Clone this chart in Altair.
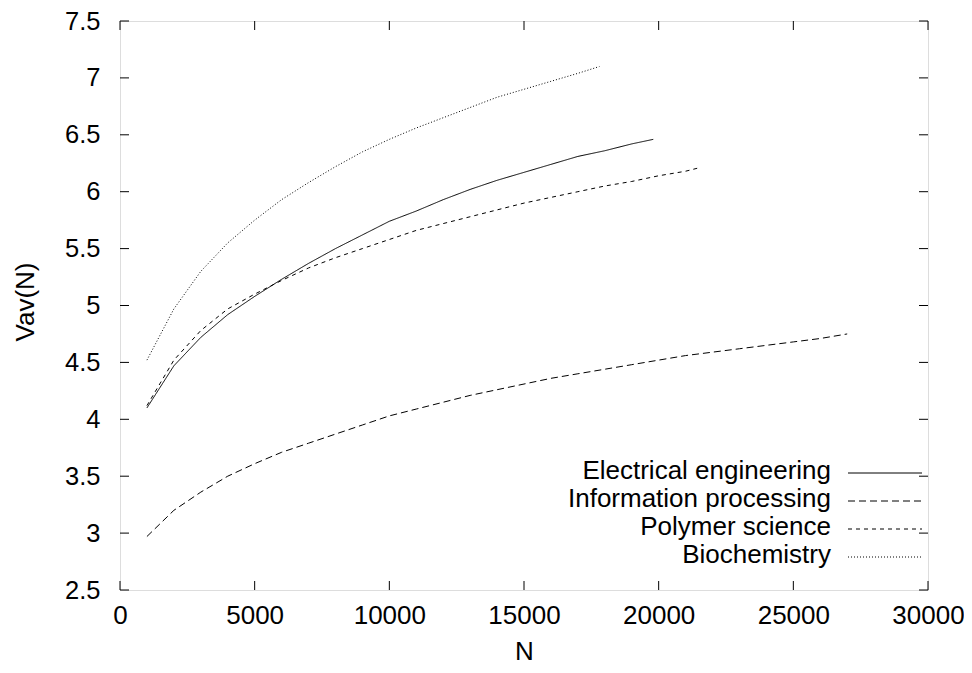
import altair as alt
import pandas as pd

# ---- data ----
series_names = ["Electrical engineering", "Information processing", "Polymer science", "Biochemistry"]

ee_N = [1000, 2000, 3000, 4000, 5000, 6000, 7000, 8000, 9000, 10000, 11000, 12000, 13000,
        14000, 15000, 16000, 17000, 18000, 19000, 19800]
ee_V = [4.10, 4.47, 4.72, 4.92, 5.08, 5.23, 5.37, 5.50, 5.62, 5.74, 5.83, 5.93, 6.02,
        6.10, 6.17, 6.24, 6.31, 6.36, 6.42, 6.46]

ip_N = [1000, 2000, 3000, 4000, 5000, 6000, 7000, 8000, 9000, 10000, 11000, 12000, 13000,
        14000, 15000, 16000, 17000, 18000, 19000, 20000, 21000, 22000, 23000, 24000, 25000,
        26000, 27000]
ip_V = [2.97, 3.20, 3.36, 3.50, 3.61, 3.71, 3.79, 3.87, 3.95, 4.03, 4.09, 4.15, 4.21,
        4.26, 4.31, 4.36, 4.40, 4.44, 4.48, 4.52, 4.56, 4.59, 4.62, 4.65, 4.68, 4.71, 4.75]

ps_N = [1000, 2000, 3000, 4000, 5000, 6000, 7000, 8000, 9000, 10000, 11000, 12000, 13000,
        14000, 15000, 16000, 17000, 18000, 19000, 20000, 21000, 21500]
ps_V = [4.12, 4.52, 4.78, 4.97, 5.10, 5.22, 5.33, 5.42, 5.50, 5.58, 5.66, 5.72, 5.78,
        5.84, 5.90, 5.95, 6.00, 6.05, 6.09, 6.14, 6.18, 6.21]

bc_N = [1000, 2000, 3000, 4000, 5000, 6000, 7000, 8000, 9000, 10000, 11000, 12000, 13000,
        14000, 15000, 16000, 17000, 17800]
bc_V = [4.52, 4.97, 5.30, 5.55, 5.75, 5.93, 6.08, 6.22, 6.35, 6.46, 6.56, 6.65, 6.74,
        6.83, 6.90, 6.97, 7.04, 7.10]

x_ticks = [0, 5000, 10000, 15000, 20000, 25000, 30000]
y_ticks = [2.5, 3, 3.5, 4, 4.5, 5, 5.5, 6, 6.5, 7, 7.5]

dashes = [[1, 0], [7, 4], [4, 4], [1, 2]]

# ---- build tables ----
rows = []
for name, Ns, Vs in zip(series_names, [ee_N, ip_N, ps_N, bc_N], [ee_V, ip_V, ps_V, bc_V]):
    for i, (n, v) in enumerate(zip(Ns, Vs)):
        rows.append({"series": name, "N": n, "V": v, "order": i})
df = pd.DataFrame(rows)

W, H = 808, 569
FONT = "Liberation Sans"
FS = 26
YFS = 25.5

xscale = alt.Scale(domain=[0, 30000], nice=False, zero=False)
yscale = alt.Scale(domain=[2.5, 7.5], nice=False, zero=False)

xaxis = alt.Axis(values=x_ticks, ticks=False, tickSize=0, domain=False, grid=False,
                 labelFontSize=FS, labelFont=FONT, labelColor="black", labelPadding=12,
                 title="N", titleFontSize=FS, titleFont=FONT, titleFontWeight="normal",
                 titleColor="black", titleY=48, titleBaseline="top", format="d",
                 labelFlush=False)
yaxis = alt.Axis(values=y_ticks, ticks=False, tickSize=0, domain=False, grid=False,
                 labelFontSize=YFS, labelFont=FONT, labelColor="black", labelPadding=20,
                 title="Vav(N)", titleFontSize=FS, titleFont=FONT, titleFontWeight="normal",
                 titleColor="black", titleX=-82, titleY=H / 2 - 4, labelFlush=False,
                 format="~g")

lines = alt.Chart(df).mark_line(strokeWidth=1, color="black").encode(
    x=alt.X("N:Q", scale=xscale, axis=xaxis),
    y=alt.Y("V:Q", scale=yscale, axis=yaxis),
    strokeDash=alt.StrokeDash("series:N", scale=alt.Scale(domain=series_names, range=dashes),
                              legend=None),
    detail="series:N",
    order="order:Q",
)

xt = pd.DataFrame({"t": x_ticks})
yt = pd.DataFrame({"t": y_ticks})
TL = 9
tick_b = alt.Chart(xt).mark_rule(color="black", strokeWidth=1).encode(
    x=alt.X("t:Q", scale=xscale), y=alt.value(H), y2=alt.value(H - TL))
tick_t = alt.Chart(xt).mark_rule(color="black", strokeWidth=1).encode(
    x=alt.X("t:Q", scale=xscale), y=alt.value(0), y2=alt.value(TL))
tick_l = alt.Chart(yt).mark_rule(color="black", strokeWidth=1).encode(
    y=alt.Y("t:Q", scale=yscale), x=alt.value(0), x2=alt.value(TL))
tick_r = alt.Chart(yt).mark_rule(color="black", strokeWidth=1).encode(
    y=alt.Y("t:Q", scale=yscale), x=alt.value(W), x2=alt.value(W - TL))

# ---- legend (inside, bottom right, line sample on the right of the label) ----
leg_layers = []
for i, name in enumerate(series_names):
    ypix = 450 + 28 * i
    ld = pd.DataFrame({"series": [name]})
    leg_layers.append(alt.Chart(ld).mark_text(
        align="right", baseline="middle", font=FONT, fontSize=FS, color="black").encode(
        text="series:N", x=alt.value(711), y=alt.value(ypix)))
    leg_layers.append(alt.Chart(ld).mark_rule(
        color="black", strokeWidth=1, strokeDash=dashes[i]).encode(
        x=alt.value(728), x2=alt.value(802), y=alt.value(ypix + 2)))

chart = alt.layer(lines, tick_b, tick_t, tick_l, tick_r, *leg_layers).properties(
    width=W, height=H,
    autosize=alt.AutoSizeParams(type="none"),
    padding={"left": 112, "top": 13, "right": 36, "bottom": 75},
).configure_view(stroke="black", strokeWidth=1.2).configure(background="white")

chart.save("out.html", embed_options={"renderer": "svg", "actions": False})
